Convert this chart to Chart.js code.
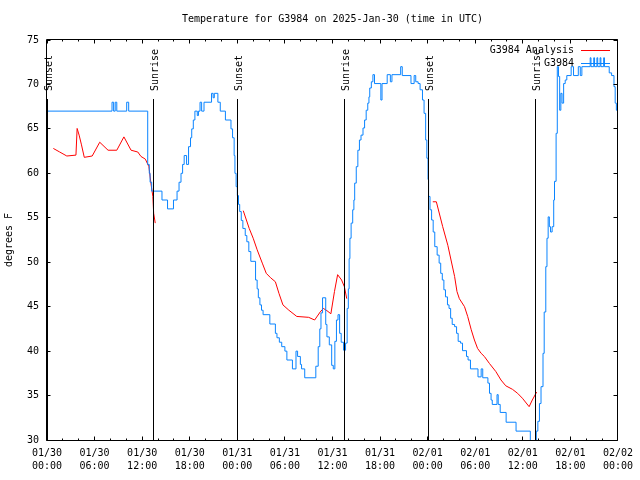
<!DOCTYPE html>
<html>
<head>
<meta charset="utf-8">
<script src="https://cdn.jsdelivr.net/npm/chart.js@4.4.1/dist/chart.umd.min.js"></script>
<style>
  html, body { margin: 0; padding: 0; background: #fff; }
  #wrap { width: 640px; height: 480px; }
</style>
</head>
<body>
<div id="wrap"><canvas id="chart" width="640" height="480"></canvas></div>
<script>
/* global Chart */

const TITLE = "Temperature for G3984 on 2025-Jan-30 (time in UTC)";
const FONT = "'DejaVu Sans Mono', 'Liberation Mono', monospace";

// hours since 01/30 00:00 UTC
const xTickDates = ["01/30", "01/30", "01/30", "01/30", "01/31", "01/31", "01/31", "01/31", "02/01", "02/01", "02/01", "02/01", "02/02"];
const xTickTimes = ["00:00", "06:00", "12:00", "18:00", "00:00", "06:00", "12:00", "18:00", "00:00", "06:00", "12:00", "18:00", "00:00"];

const sunHours = [0, 13.45, 24.0, 37.5, 48.05, 61.55];
const sunLabels = ["Sunset", "Sunrise", "Sunset", "Sunrise", "Sunset", "Sunrise"];

// observed station temps (change points, held until next point)
const obsHours = [
  0, 8.2, 8.4, 8.6, 8.8, 10.05, 10.3, 12.7, 12.9, 13.0, 13.2, 14.5, 15.2, 15.95, 16.4, 16.65, 16.9, 17.1, 17.3, 17.6,
  17.85, 18.1, 18.25, 18.45, 18.65, 18.95, 19.1, 19.3, 19.5, 19.8, 20.75, 20.95, 21.1, 21.55, 21.85, 22.5, 23.2, 23.4, 23.6, 23.7,
  23.85, 24.0, 24.15, 24.3, 24.5, 24.7, 25.0, 25.2, 25.45, 25.7, 26.3, 26.5, 26.65, 26.85, 27.05, 27.25, 28.1, 28.8, 29.0, 29.3,
  29.6, 30.0, 30.25, 30.95, 31.4, 31.6, 31.95, 32.1, 32.5, 33.9, 34.2, 34.4, 34.55, 34.75, 35.15, 35.3, 35.6, 35.9, 36.1, 36.3,
  36.5, 36.7, 36.9, 37.1, 37.4, 37.65, 37.85, 38.0, 38.1, 38.2, 38.35, 38.55, 38.7, 38.8, 39.0, 39.2, 39.4, 39.6, 39.85, 40.05,
  40.25, 40.45, 40.6, 40.7, 40.9, 41.1, 41.3, 42.1, 42.25, 42.9, 43.3, 43.5, 44.6, 44.8, 45.9, 46.3, 46.5, 46.8, 47.05, 47.35,
  47.55, 47.75, 47.9, 48.05, 48.12, 48.3, 48.5, 48.7, 48.9, 49.2, 49.45, 49.65, 49.85, 50.05, 50.25, 50.5, 50.7, 50.9, 51.1, 51.4,
  51.65, 51.85, 52.15, 52.4, 52.9, 53.1, 53.4, 54.35, 54.75, 54.95, 55.6, 55.8, 56.0, 56.15, 56.75, 56.9, 57.15, 57.9, 59.15, 60.95,
  61.7, 61.9, 62.1, 62.3, 62.55, 62.7, 62.9, 63.05, 63.2, 63.35, 63.5, 63.7, 63.9, 64.0, 64.2, 64.35, 64.5, 64.65, 64.8, 64.95,
  65.15, 65.35, 65.55, 66.1, 66.4, 67.0, 67.25, 67.45, 68.5, 68.6, 68.95, 69.05, 69.35, 69.45, 69.75, 69.85, 70.2, 70.3, 70.9, 71.2,
  71.5, 71.65, 71.8, 71.95
];
const obsTemps = [
  67, 68, 67, 68, 67, 68, 67, 61, 60, 59, 58, 57, 56, 57, 58, 59, 60, 61, 62, 61,
  63, 64, 65, 66, 67, 66.5, 67, 68, 67, 68, 69, 68.5, 69, 68, 67, 66, 65, 64, 62, 60,
  58.5, 57.5, 56.5, 55.7, 54.7, 53.8, 53, 52.3, 51.2, 50.1, 48, 47, 46, 45.2, 44.6, 44.1, 43.05, 42, 41.5, 41,
  40.5, 40, 39, 38, 40, 39.4, 38.5, 38, 37, 38.3, 40.5, 42.5, 44.3, 46, 43, 41.6, 40.7, 38.4, 38, 41.1,
  43.5, 44.1, 42, 41, 40.1, 40.9, 44.8, 47, 50.4, 52.7, 54.4, 55.9, 57, 58.9, 60.75, 62.6, 63.75, 64.3, 65.1, 66,
  67.1, 67.9, 68.6, 69.6, 70.3, 71.1, 70.1, 68.25, 70.1, 71.1, 70.3, 71.1, 72, 71, 70.1, 71, 70.3, 70.1, 69.4, 68.25,
  66.75, 63.75, 61.7, 59.3, 57.4, 55.9, 54.75, 53.4, 51.75, 50.8, 49.9, 48.75, 48, 46.9, 46.1, 45.2, 44.8, 43.7, 43, 42.75,
  42, 41.1, 40.9, 40.05, 39.4, 39, 38, 37.1, 38, 37, 36.4, 35.25, 34.5, 34, 35.1, 34, 33.1, 32, 31, 29,
  31, 32.1, 34.1, 36, 39.75, 44.4, 49.5, 52.7, 55.1, 54, 53.4, 54, 57, 59.1, 64.5, 72, 70.9, 67.1, 69, 67.9,
  70.1, 70.5, 71, 72, 71, 72, 71, 72, 73, 72, 73, 72, 73, 72, 73, 72, 73, 72, 71.3, 71,
  69.75, 67.9, 67.1, 67
];

// analysis temps, three nightly runs (null = gap)
const anaHours = [
  0.8, 1.6, 2.5, 3.65, 3.8, 4.05, 4.35, 4.7, 5.7, 6.65, 7.7, 8.8, 9.7, 10.6, 11.45, 11.85, 12.4, 12.85, 13.1, 13.35, 13.45, 13.65,
  19,
  24.75, 25.5, 26.0, 26.5, 27.15, 27.65, 28.2, 28.8, 29.25, 29.75, 30.5, 31.5, 33.0, 33.75, 34.45, 34.85, 35.3, 35.8, 36.25, 36.65, 37.15, 37.5, 37.8,
  43,
  48.65, 49.1, 49.9, 50.55, 50.95, 51.4, 51.7, 52.0, 52.65, 53.05, 53.5, 53.9, 54.3, 54.75, 55.15, 55.8, 56.6, 57.25, 57.85, 58.7, 59.35, 59.95, 60.8, 61.2, 61.75
];
const anaTemps = [
  62.8, 62.4, 61.95, 62.05, 65.05, 64.3, 63.2, 61.8, 61.95, 63.5, 62.6, 62.6, 64.1, 62.6, 62.4, 61.9, 61.6, 60.75, 58.9, 57.4, 55.5, 54.4,
  null,
  55.8, 53.8, 52.7, 51.4, 49.9, 48.75, 48.25, 47.8, 46.5, 45.2, 44.6, 43.9, 43.8, 43.5, 44.4, 44.8, 44.55, 44.2, 46.7, 48.6, 48, 47.25, 45.9,
  null,
  56.8, 56.8, 54, 51.9, 50.25, 48.4, 46.7, 45.9, 45, 43.9, 42.4, 41.25, 40.3, 39.75, 39.4, 38.6, 37.7, 36.75, 36.1, 35.7, 35.25, 34.7, 33.75, 34.5, 35.4
];

const OBS_COLOR = "#0a84ff";
const ANA_COLOR = "#ff0000";

function toPoints(xs, ys) {
  return xs.map((x, i) => ({ x, y: ys[i] }));
}

const crisp = (v) => Math.floor(v) + 0.5;

const gnuplotDecor = {
  id: "gnuplotDecor",
  afterDraw(chart) {
    const { ctx, chartArea: a, scales } = chart;
    const xs = scales.x;
    const ys = scales.y;
    ctx.save();
    ctx.strokeStyle = "#000";
    ctx.fillStyle = "#000";
    ctx.lineWidth = 1;

    // frame
    const L = crisp(a.left - 1), T = crisp(a.top - 1), R = crisp(a.right), B = crisp(a.bottom);
    ctx.beginPath();
    ctx.rect(L, T, R - L, B - T);
    ctx.stroke();

    // x ticks (inward, bottom and top)
    ctx.beginPath();
    for (let h = 0; h <= 72; h += 2) {
      const px = crisp(xs.getPixelForValue(h));
      const len = h % 6 === 0 ? 4 : 2;
      ctx.moveTo(px, B);
      ctx.lineTo(px, B - len);
      ctx.moveTo(px, T);
      ctx.lineTo(px, T + len);
    }
    // y ticks (inward, left and right)
    for (let t = 30; t <= 75; t += 5) {
      const py = crisp(ys.getPixelForValue(t));
      ctx.moveTo(L, py);
      ctx.lineTo(L + 4, py);
      ctx.moveTo(R, py);
      ctx.lineTo(R - 4, py);
    }
    ctx.stroke();

    // sunrise / sunset markers
    const lineTop = a.top + 59;
    ctx.font = "10px " + FONT;
    sunHours.forEach((h, i) => {
      const px = crisp(xs.getPixelForValue(h));
      ctx.beginPath();
      ctx.moveTo(px, lineTop);
      ctx.lineTo(px, B);
      ctx.stroke();
      ctx.save();
      ctx.translate(px + 1.5, lineTop - 8);
      ctx.rotate(-Math.PI / 2);
      ctx.textAlign = "left";
      ctx.textBaseline = "middle";
      ctx.fillText(sunLabels[i], 0, 0);
      ctx.restore();
    });

    // legend (top right, inside plot)
    const legend = [
      ["G3984 Analysis", ANA_COLOR],
      ["G3984", OBS_COLOR]
    ];
    ctx.textAlign = "right";
    ctx.textBaseline = "middle";
    legend.forEach(([label, color], i) => {
      const y = 50 + i * 13;
      ctx.fillStyle = "#000";
      ctx.fillText(label, 574, y);
      ctx.strokeStyle = color;
      ctx.beginPath();
      ctx.moveTo(581, y + 0.5);
      ctx.lineTo(610, y + 0.5);
      ctx.stroke();
    });

    // title
    ctx.fillStyle = "#000";
    ctx.textAlign = "center";
    ctx.fillText(TITLE, (a.left + a.right) / 2, 19);
    ctx.restore();
  }
};

const tickFont = { family: FONT, size: 10, lineHeight: 1.3 };

new Chart(document.getElementById("chart").getContext("2d"), {
  type: "line",
  data: {
    datasets: [
      {
        label: "G3984",
        data: toPoints(obsHours, obsTemps),
        borderColor: OBS_COLOR,
        borderWidth: 1,
        pointRadius: 0,
        stepped: "before",
        fill: false
      },
      {
        label: "G3984 Analysis",
        data: toPoints(anaHours, anaTemps),
        borderColor: ANA_COLOR,
        borderWidth: 1,
        pointRadius: 0,
        spanGaps: false,
        tension: 0,
        fill: false
      }
    ]
  },
  options: {
    responsive: false,
    animation: false,
    layout: { padding: { left: 0, right: 19, top: 40, bottom: 0 } },
    plugins: {
      legend: { display: false },
      tooltip: { enabled: false },
      title: { display: false }
    },
    scales: {
      x: {
        type: "linear",
        min: 0,
        max: 72,
        grid: { display: false, drawTicks: false },
        border: { display: false },
        ticks: {
          stepSize: 6,
          autoSkip: false,
          maxRotation: 0,
          padding: 7,
          color: "#000",
          font: tickFont,
          callback: (v) => {
            const i = Math.round(v / 6);
            return [xTickDates[i], xTickTimes[i]];
          }
        },
        afterFit: (s) => { s.height = 40; }
      },
      y: {
        min: 30,
        max: 75,
        grid: { display: false, drawTicks: false },
        border: { display: false },
        ticks: { stepSize: 5, padding: 8, color: "#000", font: { family: FONT, size: 10 } },
        title: {
          display: true,
          text: "degrees F",
          color: "#000",
          font: { family: FONT, size: 10 },
          padding: { top: 3, bottom: 0 }
        },
        afterFit: (s) => { s.width = 47; }
      }
    }
  },
  plugins: [gnuplotDecor]
});
</script>
</body>
</html>
